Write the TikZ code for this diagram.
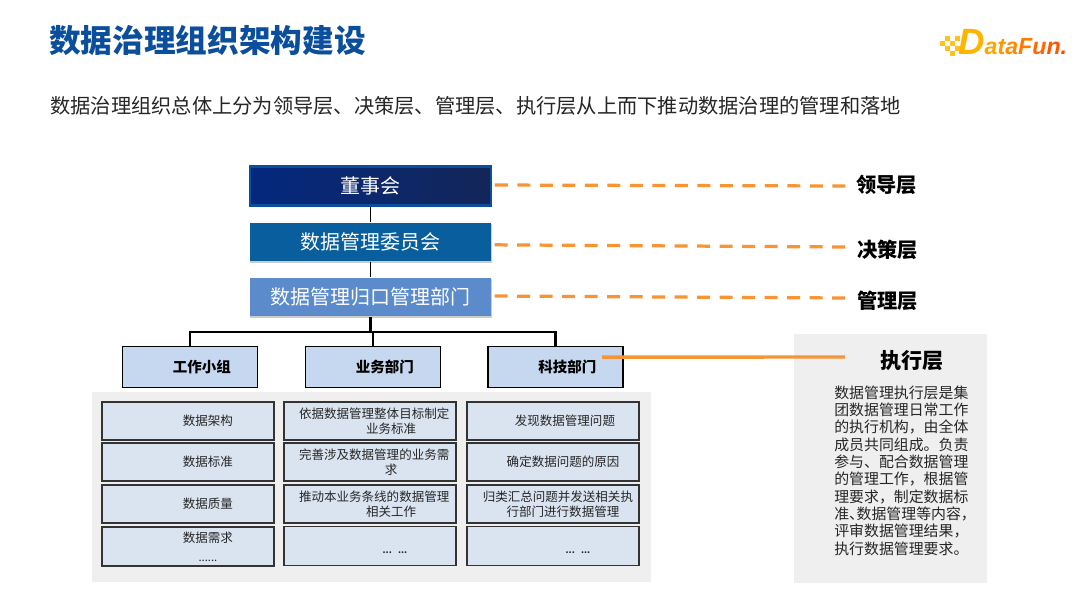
\documentclass[tikz,border=0pt]{standalone}
\usepackage{fontspec}
\setmainfont{Noto Sans CJK SC}
\newfontfamily\logofont{Liberation Sans}
\usetikzlibrary{arrows.meta,shadows}

\definecolor{titleblue}{HTML}{0B4F9C}
\definecolor{dashorange}{HTML}{F79433}
\definecolor{panelgray}{HTML}{EFEFEF}
\definecolor{cellblue}{HTML}{DAE4F1}
\definecolor{headblue}{HTML}{C6D8EF}
\definecolor{bodygray}{HTML}{262626}
\definecolor{logoyellow}{HTML}{FFC21A}
\definecolor{committeeblue}{HTML}{095F9E}
\definecolor{officeblue}{HTML}{5B8BCB}
\definecolor{boardleft}{HTML}{04287F}
\definecolor{boardright}{HTML}{142658}

\tikzset{
  lead/.style={minimum width=172pt, minimum height=27.7pt, text=white, font=\fontsize{14.2}{16}\selectfont, inner sep=0pt},
  headbox/.style={draw=black, line width=1.3pt, fill=headblue, minimum width=96pt, minimum height=29.2pt, inner sep=0pt, font=\fontsize{10.3}{12}\bfseries\selectfont},
  cellbox/.style={draw=black!80, line width=.9pt, fill=cellblue, minimum width=122.3pt, minimum height=27pt, text width=118pt, inner sep=0pt, align=center, text=bodygray, font=\fontsize{8.9}{10.7}\selectfont},
  layerlabel/.style={font=\fontsize{14.4}{16}\bfseries\selectfont, inner sep=0pt},
  layerdash/.style={dashorange, line width=2.3pt, dash pattern=on 9.3pt off 6.7pt},
  panel/.style={fill=panelgray, draw=none},
  cast/.style={drop shadow={shadow xshift=.5pt, shadow yshift=-1.2pt, opacity=.4}},
}

\begin{document}
\begin{tikzpicture}[x=.025cm, y=-.025cm, line cap=butt]
  \useasboundingbox[fill=white] (0,0) rectangle (1080,608);

  % heading
  \node[anchor=west, inner sep=0pt, text=titleblue, font=\fontsize{22.5}{26}\bfseries\selectfont] (title) at (49,40) {数据治理组织架构建设};
  \node[anchor=west, inner sep=0pt, text=bodygray, font=\fontsize{14.4}{17}\selectfont] (subtitle) at (50,106) {数据治理组织总体上分为领导层、决策层、管理层、执行层从上而下推动数据治理的管理和落地};

  % logo
  \foreach \px/\py in {940/41, 945/36, 945/46, 950/41, 950/51, 955/36, 955/46}
    \fill[logoyellow] (\px,\py) rectangle +(4.5,4.5);
  \node[anchor=base west, inner sep=0pt, font=\logofont\bfseries\itshape] (logo) at (958,54) {\fontsize{26}{28}\selectfont\textcolor[HTML]{FFB400}{D}\fontsize{16.5}{18}\selectfont\textcolor[HTML]{FFA600}{a}\textcolor[HTML]{FF9800}{t}\textcolor[HTML]{FF8C00}{a}\textcolor[HTML]{FF7A00}{F}\textcolor[HTML]{FF6800}{u}\textcolor[HTML]{FF5600}{n}\textcolor[HTML]{FF4A00}{.}};

  % backgrounds
  \fill[panel] (92,392) rectangle (651,582);
  \fill[panel] (794,334) rectangle (987,583);

  % top three levels
  \node[lead, left color=boardleft, right color=boardright, draw=titleblue, line width=1.5pt, minimum width=171.4pt] (board) at (370.5,186) {董事会};
  \node[lead, fill=committeeblue, cast] (committee) at (370.5,242) {数据管理委员会};
  \node[lead, fill=officeblue, cast] (office) at (370.5,297) {数据管理归口管理部门};

  % departments
  \node[headbox] (group) at (190,367) {\hspace*{17pt}工作小组};
  \node[headbox] (business) at (373,367) {\hspace*{17pt}业务部门};
  \node[headbox] (tech) at (555.5,367) {\hspace*{17pt}科技部门};

  \draw[black, line width=.7pt] (board) -- (committee);
  \draw[black, line width=.7pt] (committee) -- (office);
  \draw[black, line width=1.7pt] (office.south) -- ++(0,15) coordinate (bus) -| (group.north);
  \draw[black, line width=1.7pt] (bus) -| (business.north);
  \draw[black, line width=1.7pt] (bus) -| (tech.north);

  % first column
  \node[cellbox] (c11) at (188,421) {\hspace*{28.4pt}数据架构};
  \node[cellbox] (c12) at (188,462) {\hspace*{28.4pt}数据标准};
  \node[cellbox] (c13) at (188,504) {\hspace*{28.4pt}数据质量};
  \node[cellbox, minimum height=27.7pt] (c14) at (188,546.5) {\hspace*{28.4pt}数据需求\\[3pt]\hspace*{28.4pt}\fontsize{8}{8}\selectfont ......};

  % second column
  \node[cellbox] (c21) at (370,421) {\hspace*{6pt}依据数据管理整体目标制定\\\hspace*{30pt}业务标准};
  \node[cellbox] (c22) at (370,462) {\hspace*{6pt}完善涉及数据管理的业务需\\\hspace*{30pt}求};
  \node[cellbox] (c23) at (370,504) {\hspace*{6pt}推动本业务条线的数据管理\\\hspace*{30pt}相关工作};
  \node[cellbox, minimum height=27.7pt] (c24) at (370,546) {\mbox{}\\\hspace*{35.5pt}\fontsize{6.2}{8}\bfseries\selectfont ... ...};

  % third column
  \node[cellbox] (c31) at (553,421) {\hspace*{17pt}发现数据管理问题};
  \node[cellbox] (c32) at (553,462) {\hspace*{14.3pt}确定数据问题的原因};
  \node[cellbox] (c33) at (553,504) {\hspace*{7pt}归类汇总问题并发送相关执\\\hspace*{14.2pt}行部门进行数据管理};
  \node[cellbox, minimum height=27.7pt] (c34) at (553,546) {\mbox{}\\\hspace*{35.5pt}\fontsize{6.2}{8}\bfseries\selectfont ... ...};

  % layer labels
  \node[layerlabel] (leadlayer) at (886.5,185) {领导层};
  \node[layerlabel] (decidelayer) at (887.5,250) {决策层};
  \node[layerlabel] (managelayer) at (887.5,301) {管理层};
  \node[layerlabel, font=\fontsize{15}{17}\bfseries\selectfont] (execlayer) at (912,361) {执行层};

  \coordinate (leadend) at (847,186);
  \coordinate (decideend) at (846,247);
  \coordinate (manageend) at (845,298);
  \coordinate (execend) at (845,357);
  \draw[layerdash] ([xshift=2pt,yshift=.7pt]board.east) -- (leadend);
  \draw[layerdash] ([xshift=2pt,yshift=-2pt]committee.east) -- (decideend);
  \draw[layerdash] ([xshift=2pt,yshift=.7pt]office.east) -- (manageend);
  \draw[dashorange, line width=2.4pt] ([xshift=-15.5pt,yshift=7pt]tech.east) -- (execend);

  % text of the execution layer
  \node[anchor=north west, inner sep=0pt, align=left, text=bodygray, font=\fontsize{10.6}{12.3}\selectfont] (execnote) at (834,385.5) {数据管理执行层是集\\团数据管理日常工作\\的执行机构，由全体\\成员共同组成。负责\\参与、配合数据管理\\的管理工作，根据管\\理要求，制定数据标\\准、\kern-5.3pt 数据管理等内容，\\评审数据管理结果，\\执行数据管理要求。};
\end{tikzpicture}
\end{document}
